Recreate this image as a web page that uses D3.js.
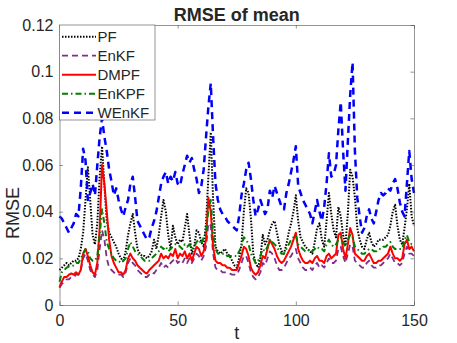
<!DOCTYPE html>
<html>
<head>
<meta charset="utf-8">
<script src="https://cdn.jsdelivr.net/npm/d3@7"></script>
<style>
  body { margin: 0; background: #fff; }
  text { font-family: "Liberation Sans", Arial, Helvetica, sans-serif; fill: #262626; }
</style>
</head>
<body>
<div id="chart"></div>
<script>
// data, one value per t = 0..150
var seriesNames = ["PF", "EnKF", "DMPF", "EnKPF", "WEnKF"];
var xTicks = [0, 50, 100, 150];
var yTicks = [0, 0.02, 0.04, 0.06, 0.08, 0.1, 0.12];
var yTickLabels = ["0", "0.02", "0.04", "0.06", "0.08", "0.1", "0.12"];

var pf = [0.015,0.016,0.017,0.018,0.017,0.018,0.019,0.019,0.020,0.024,
  0.031,0.045,0.059,0.045,0.030,0.026,0.035,0.055,0.068,0.051,
  0.036,0.031,0.029,0.027,0.025,0.022,0.020,0.019,0.023,0.030,
  0.035,0.039,0.031,0.024,0.022,0.021,0.021,0.020,0.021,0.023,
  0.028,0.024,0.030,0.038,0.045,0.040,0.030,0.024,0.034,0.029,
  0.026,0.028,0.027,0.033,0.039,0.030,0.022,0.025,0.032,0.031,
  0.027,0.025,0.035,0.055,0.074,0.045,0.025,0.023,0.022,0.023,
  0.024,0.022,0.021,0.019,0.017,0.016,0.020,0.026,0.040,0.050,
  0.048,0.037,0.022,0.018,0.016,0.020,0.030,0.026,0.028,0.032,
  0.035,0.036,0.031,0.026,0.023,0.022,0.026,0.031,0.035,0.040,
  0.047,0.036,0.029,0.027,0.025,0.024,0.023,0.022,0.027,0.033,
  0.035,0.028,0.025,0.036,0.048,0.039,0.032,0.029,0.042,0.038,
  0.030,0.026,0.039,0.058,0.055,0.046,0.033,0.028,0.025,0.024,
  0.028,0.031,0.027,0.025,0.026,0.028,0.028,0.028,0.029,0.030,
  0.034,0.040,0.043,0.034,0.028,0.026,0.033,0.041,0.052,0.038,
  0.034];

var enkf = [0.0075,0.009,0.010,0.011,0.011,0.012,0.012,0.013,0.013,0.015,
  0.020,0.022,0.019,0.015,0.013,0.012,0.015,0.024,0.032,0.028,
  0.020,0.016,0.015,0.014,0.013,0.013,0.013,0.012,0.014,0.018,
  0.020,0.018,0.017,0.015,0.014,0.013,0.012,0.012,0.013,0.014,
  0.0135,0.015,0.016,0.018,0.016,0.017,0.016,0.018,0.019,0.020,
  0.018,0.019,0.018,0.020,0.018,0.020,0.018,0.020,0.022,0.021,
  0.019,0.021,0.025,0.035,0.034,0.022,0.016,0.015,0.015,0.014,
  0.014,0.014,0.0135,0.013,0.013,0.013,0.015,0.018,0.021,0.021,
  0.018,0.014,0.012,0.011,0.012,0.014,0.018,0.017,0.020,0.023,
  0.022,0.020,0.017,0.015,0.015,0.016,0.018,0.020,0.021,0.023,
  0.024,0.020,0.018,0.016,0.015,0.015,0.016,0.015,0.017,0.018,
  0.016,0.017,0.016,0.018,0.020,0.018,0.018,0.019,0.024,0.025,
  0.021,0.018,0.022,0.026,0.025,0.019,0.018,0.017,0.016,0.016,
  0.018,0.019,0.017,0.016,0.016,0.017,0.017,0.018,0.019,0.020,
  0.022,0.020,0.018,0.018,0.017,0.018,0.022,0.025,0.022,0.022,
  0.021];

var dmpf = [0.0075,0.010,0.012,0.012,0.013,0.0135,0.013,0.014,0.013,0.015,
  0.022,0.024,0.021,0.017,0.014,0.013,0.018,0.033,0.060,0.052,
  0.040,0.028,0.021,0.018,0.016,0.014,0.014,0.013,0.015,0.020,
  0.022,0.020,0.019,0.017,0.016,0.015,0.014,0.0135,0.015,0.016,
  0.017,0.018,0.019,0.022,0.020,0.021,0.020,0.022,0.021,0.024,
  0.020,0.022,0.021,0.023,0.020,0.022,0.019,0.022,0.025,0.024,
  0.021,0.023,0.028,0.046,0.040,0.025,0.019,0.018,0.018,0.017,
  0.017,0.016,0.016,0.015,0.015,0.015,0.018,0.021,0.025,0.024,
  0.021,0.016,0.014,0.013,0.014,0.017,0.021,0.020,0.024,0.028,
  0.026,0.024,0.021,0.019,0.018,0.019,0.021,0.023,0.025,0.028,
  0.031,0.024,0.021,0.019,0.018,0.018,0.019,0.018,0.020,0.021,
  0.019,0.019,0.018,0.021,0.022,0.020,0.021,0.022,0.030,0.031,
  0.024,0.020,0.026,0.033,0.030,0.022,0.021,0.020,0.019,0.019,
  0.021,0.022,0.020,0.018,0.018,0.019,0.019,0.020,0.021,0.022,
  0.025,0.022,0.020,0.020,0.019,0.020,0.026,0.028,0.024,0.025,
  0.023];

var enkpf = [0.010,0.014,0.015,0.016,0.0165,0.0165,0.017,0.018,0.018,0.020,
  0.022,0.024,0.023,0.020,0.019,0.019,0.021,0.030,0.041,0.035,
  0.027,0.024,0.022,0.020,0.019,0.019,0.018,0.019,0.020,0.024,
  0.027,0.025,0.023,0.022,0.021,0.020,0.019,0.019,0.019,0.020,
  0.021,0.022,0.023,0.025,0.024,0.025,0.023,0.024,0.025,0.026,
  0.026,0.025,0.024,0.026,0.025,0.026,0.024,0.025,0.027,0.028,
  0.026,0.029,0.031,0.041,0.045,0.030,0.024,0.022,0.022,0.022,
  0.022,0.021,0.021,0.021,0.021,0.021,0.023,0.025,0.029,0.028,
  0.026,0.022,0.020,0.018,0.019,0.021,0.024,0.023,0.025,0.028,
  0.027,0.026,0.025,0.023,0.022,0.022,0.024,0.026,0.028,0.029,
  0.030,0.026,0.025,0.024,0.023,0.023,0.024,0.023,0.024,0.025,
  0.024,0.024,0.023,0.026,0.028,0.026,0.025,0.026,0.028,0.029,
  0.027,0.025,0.028,0.030,0.029,0.025,0.024,0.023,0.022,0.022,
  0.023,0.024,0.024,0.023,0.023,0.024,0.024,0.025,0.025,0.026,
  0.027,0.025,0.024,0.024,0.024,0.024,0.028,0.030,0.027,0.026,
  0.026];

var wenkf = [0.038,0.037,0.035,0.033,0.031,0.033,0.035,0.039,0.038,0.050,
  0.067,0.062,0.045,0.048,0.052,0.047,0.060,0.072,0.080,0.072,
  0.066,0.058,0.053,0.047,0.050,0.045,0.041,0.038,0.042,0.045,
  0.052,0.055,0.046,0.036,0.034,0.032,0.030,0.028,0.029,0.033,
  0.036,0.040,0.046,0.052,0.055,0.057,0.052,0.055,0.053,0.057,
  0.052,0.051,0.056,0.060,0.064,0.061,0.063,0.058,0.054,0.048,
  0.051,0.058,0.072,0.085,0.095,0.072,0.052,0.045,0.041,0.039,
  0.038,0.036,0.035,0.034,0.033,0.032,0.038,0.047,0.052,0.058,
  0.061,0.054,0.045,0.038,0.041,0.045,0.042,0.039,0.041,0.049,
  0.046,0.051,0.048,0.045,0.042,0.041,0.048,0.052,0.057,0.062,
  0.068,0.051,0.048,0.045,0.043,0.041,0.039,0.035,0.040,0.045,
  0.040,0.036,0.042,0.052,0.065,0.055,0.056,0.060,0.075,0.087,
  0.066,0.049,0.070,0.090,0.104,0.066,0.046,0.038,0.031,0.033,
  0.038,0.041,0.037,0.035,0.040,0.045,0.048,0.047,0.048,0.050,
  0.049,0.052,0.054,0.050,0.044,0.040,0.038,0.052,0.066,0.054,
  0.048];

var seriesValues = [pf, enkf, dmpf, enkpf, wenkf];
var seriesColors = ["#000000", "#7E2F8E", "#FF0000", "#008000", "#0000FF"];
var seriesDash = ["1.5,1.5", "6,4", null, "6,3,1.5,3", "7,5"];
var seriesWidth = [2, 1.8, 2, 2, 2.5];

var width = 457, height = 343;
var plotLeft = 59.5, plotRight = 414, plotTop = 25, plotBottom = 305;

var svg = d3.select("#chart").append("svg")
    .attr("width", width)
    .attr("height", height);

var x = d3.scaleLinear().domain([0, 150]).range([plotLeft, plotRight]);
var y = d3.scaleLinear().domain([0, 0.12]).range([plotBottom, plotTop]);

// lines
var line = d3.line()
    .x((d, i) => x(i))
    .y(d => y(d));

seriesValues.forEach(function(vals, k) {
    svg.append("path")
        .datum(vals)
        .attr("d", line)
        .attr("fill", "none")
        .attr("stroke", seriesColors[k])
        .attr("stroke-width", seriesWidth[k])
        .attr("stroke-dasharray", seriesDash[k])
        .attr("stroke-linejoin", "round");
});

// axes, ticks pointing inwards
svg.append("g")
    .attr("transform", "translate(0," + plotBottom + ")")
    .call(d3.axisBottom(x).tickValues(xTicks).tickSizeInner(-3.5).tickSizeOuter(0).tickPadding(10));
svg.append("g")
    .attr("transform", "translate(0," + plotTop + ")")
    .call(d3.axisTop(x).tickValues(xTicks).tickSizeInner(-3.5).tickSizeOuter(0).tickFormat(""));
svg.append("g")
    .attr("transform", "translate(" + plotLeft + ",0)")
    .call(d3.axisLeft(y).tickValues(yTicks).tickSizeInner(-3.5).tickSizeOuter(0).tickPadding(6)
        .tickFormat((d, i) => yTickLabels[i]));
svg.append("g")
    .attr("transform", "translate(" + plotRight + ",0)")
    .call(d3.axisRight(y).tickValues(yTicks).tickSizeInner(-3.5).tickSizeOuter(0).tickFormat(""));

svg.selectAll(".domain, .tick line")
    .attr("stroke", "#4d4d4d")
    .attr("stroke-width", 0.6);
svg.selectAll(".tick text")
    .attr("font-size", 16)
    .attr("font-family", "Liberation Sans, Arial, sans-serif")
    .attr("fill", "#262626");

// title and labels
svg.append("text")
    .attr("x", (plotLeft + plotRight) / 2)
    .attr("y", 21)
    .attr("text-anchor", "middle")
    .attr("font-size", 18)
    .attr("font-weight", "bold")
    .text("RMSE of mean");

svg.append("text")
    .attr("x", (plotLeft + plotRight) / 2)
    .attr("y", 339)
    .attr("text-anchor", "middle")
    .attr("font-size", 18)
    .text("t");

svg.append("text")
    .attr("transform", "translate(19,213) rotate(-90)")
    .attr("text-anchor", "middle")
    .attr("font-size", 18)
    .text("RMSE");

// legend
var legend = svg.append("g");
legend.append("rect")
    .attr("x", plotLeft)
    .attr("y", plotTop)
    .attr("width", 95.5)
    .attr("height", 95)
    .attr("fill", "#fff")
    .attr("stroke", "#4d4d4d")
    .attr("stroke-width", 0.6);

seriesNames.forEach(function(name, k) {
    var ly = 36.7 + k * 19;
    legend.append("line")
        .attr("x1", 62).attr("x2", 96)
        .attr("y1", ly).attr("y2", ly)
        .attr("stroke", seriesColors[k])
        .attr("stroke-width", seriesWidth[k])
        .attr("stroke-dasharray", seriesDash[k]);
    legend.append("text")
        .attr("x", 97.5)
        .attr("y", ly)
        .attr("dy", "0.36em")
        .attr("font-size", 15)
        .text(name);
});
</script>
</body>
</html>
